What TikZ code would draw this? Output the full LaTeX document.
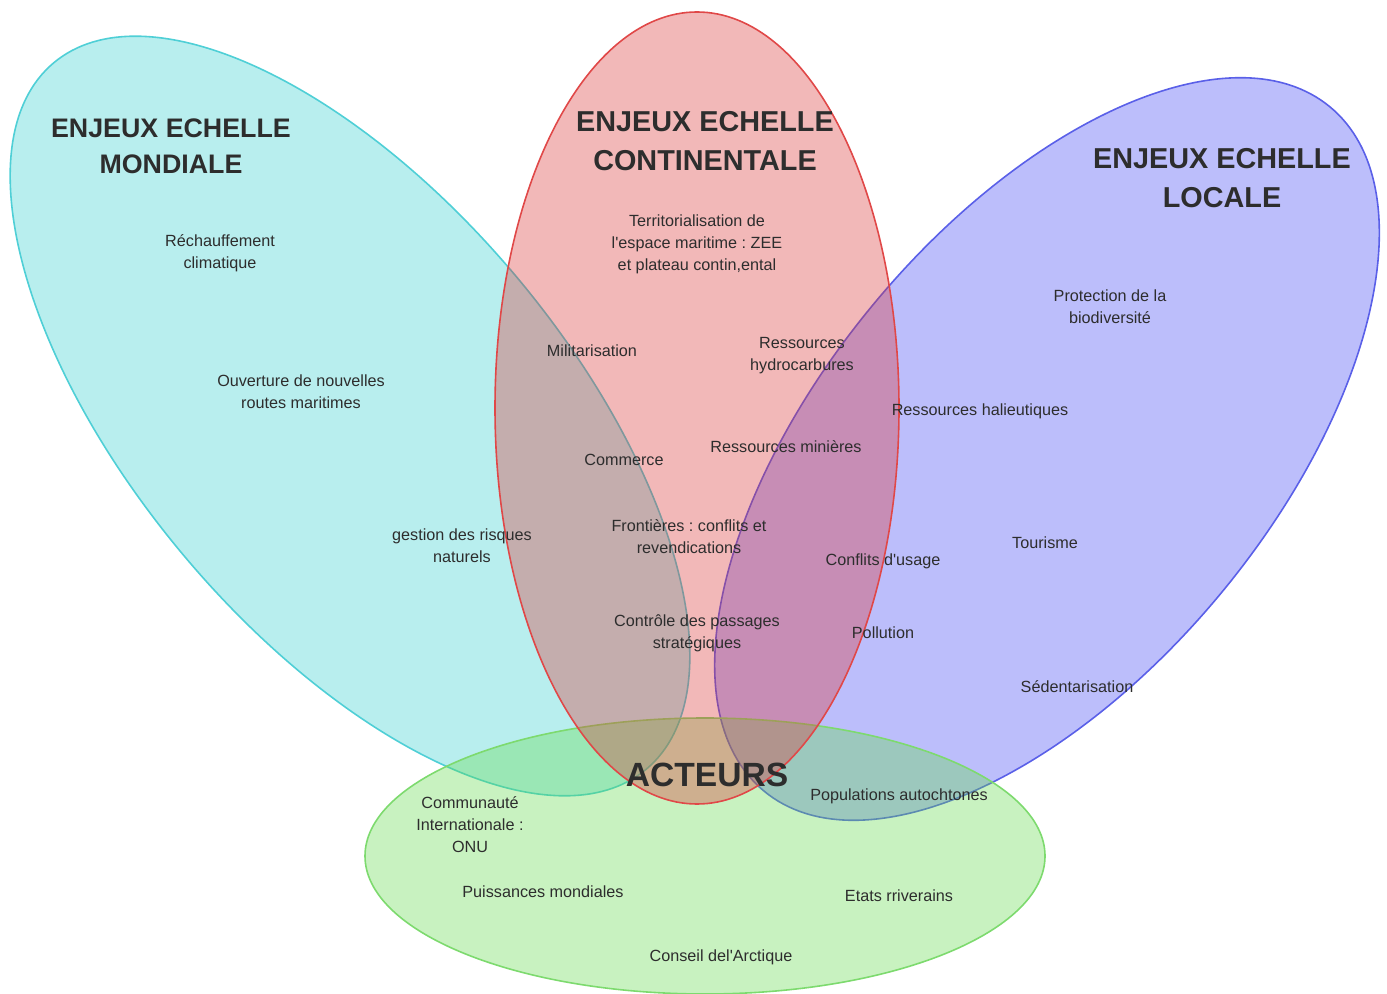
\documentclass[tikz,border=0pt]{standalone}
\usepackage{fontspec}
\setmainfont{Liberation Sans}
\usepackage{xcolor}
\usepackage{tikz}
\frenchspacing
\definecolor{cyanfill}{RGB}{52,206,206}
\definecolor{cyanline}{RGB}{79,207,214}
\definecolor{redfill}{RGB}{218,52,52}
\definecolor{redline}{RGB}{224,72,72}
\definecolor{bluefill}{RGB}{64,69,244}
\definecolor{blueline}{RGB}{90,96,232}
\definecolor{greenfill}{RGB}{98,218,75}
\definecolor{greenline}{RGB}{125,218,110}
\definecolor{textgrey}{RGB}{45,45,45}
\tikzstyle{zone} = [line width=0.8pt,fill opacity=0.35]
\tikzstyle{titre} = [text=textgrey,align=center,font=\fontsize{14.4}{19.3}\selectfont\bfseries]
\tikzstyle{enjeu} = [text=textgrey,align=center,inner sep=0pt,font=\fontsize{8.1}{11}\selectfont]

\begin{document}
\begin{tikzpicture}[line cap=round,line join=round,x=0.5pt,y=-0.5pt]
    \useasboundingbox (0,0) rectangle (1387,994);
    % les quatre ensembles
    \draw [zone,draw=cyanline,fill=cyanfill,rotate around={-50:(350,416)}] (350,416) ellipse [x radius=461,y radius=217];
    \draw [zone,draw=blueline,fill=bluefill,rotate around={50.4:(1047,449)}] (1047,449) ellipse [x radius=444,y radius=226];
    \draw [zone,draw=greenline,fill=greenfill] (705,856) ellipse [x radius=340,y radius=138];
    \draw [zone,draw=redline,fill=redfill] (697,408) ellipse [x radius=202,y radius=396];
    % titres
    \node[titre,font=\fontsize{13.4}{18}\selectfont\bfseries] (mondiale) at (171,146) {ENJEUX ECHELLE\\MONDIALE};
    \node[titre] (continentale) at (705,141) {ENJEUX ECHELLE\\CONTINENTALE};
    \node[titre] (locale) at (1222,178) {ENJEUX ECHELLE\\LOCALE};
    \node[titre,font=\fontsize{16.8}{20}\selectfont\bfseries] (acteurs) at (707,775) {ACTEURS};
    % enjeux
    \node[enjeu] (rechauffement) at (220,253) {Réchauffement\\climatique};
    \node[enjeu] (zee) at (697,244) {Territorialisation de\\l\textquotesingle espace maritime : ZEE\\et plateau contin,ental};
    \node[enjeu] (biodiversite) at (1110,307) {Protection de la\\biodiversité};
    \node[enjeu] (militarisation) at (592,351) {Militarisation};
    \node[enjeu] (hydrocarbures) at (802,356) {Ressources\\hydrocarbures};
    \node[enjeu] (routes) at (301,392) {Ouverture de nouvelles\\routes maritimes};
    \node[enjeu] (halieutiques) at (980,411) {Ressources halieutiques};
    \node[enjeu] (minieres) at (786,447) {Ressources minières};
    \node[enjeu] (commerce) at (624,460) {Commerce};
    \node[enjeu] (frontieres) at (689,537) {Frontières : conflits et\\revendications};
    \node[enjeu] (risques) at (462,546) {gestion des risques\\naturels};
    \node[enjeu] (tourisme) at (1045,543) {Tourisme};
    \node[enjeu] (usage) at (883,561) {Conflits d\textquotesingle usage};
    \node[enjeu] (passages) at (697,633) {Contrôle des passages\\stratégiques};
    \node[enjeu] (pollution) at (883,633) {Pollution};
    \node[enjeu] (sedentarisation) at (1077,687) {Sédentarisation};
    % acteurs
    \node[enjeu] (autochtones) at (899,796) {Populations autochtones};
    \node[enjeu] (onu) at (470,825) {Communauté\\Internationale :\\ONU};
    \node[enjeu] (puissances) at (543,892) {Puissances mondiales};
    \node[enjeu] (riverains) at (899,896) {Etats rriverains};
    \node[enjeu] (conseil) at (721,957) {Conseil del\textquotesingle Arctique};
\end{tikzpicture}
\end{document}
